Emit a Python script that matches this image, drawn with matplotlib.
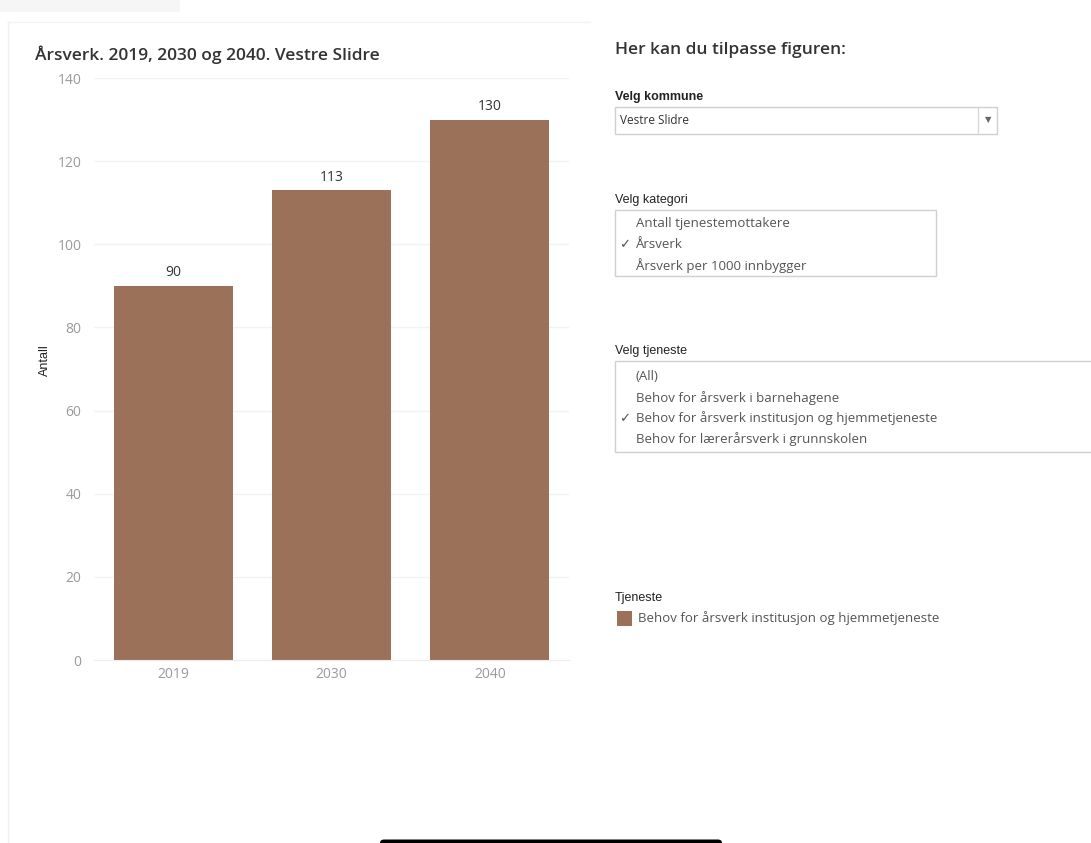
import matplotlib
matplotlib.use("Agg")
import matplotlib.pyplot as plt
from matplotlib.patches import Rectangle, FancyBboxPatch

# ---- data ----
years = ["2019", "2030", "2040"]
values = [90, 113, 130]
yticks = [0, 20, 40, 60, 80, 100, 120, 140]
title = "Årsverk. 2019, 2030 og 2040. Vestre Slidre"
ylabel = "Antall"
kategori_items = ["Antall tjenestemottakere", "Årsverk", "Årsverk per 1000 innbygger"]
kategori_selected = "Årsverk"
tjeneste_items = ["(All)", "Behov for årsverk i barnehagene",
                  "Behov for årsverk institusjon og hjemmetjeneste",
                  "Behov for lærerårsverk i grunnskolen"]
tjeneste_selected = "Behov for årsverk institusjon og hjemmetjeneste"
legend_label = "Behov for årsverk institusjon og hjemmetjeneste"

BAR = "#9B7159"
FONT = ["Open Sans", "DejaVu Sans"]
W, H = 1091, 843

fig = plt.figure(figsize=(W / 100, H / 100), dpi=100)
fig.patch.set_facecolor("white")

def P(x, y):
    return x / W, 1 - y / H

def ftext(x, y, s, **kw):
    kw.setdefault("family", FONT)
    kw.setdefault("va", "center")
    fig.text(*P(x, y), s, **kw)

def frect(x0, y0, x1, y1, ec="#d0d0d0", fc="none", lw=1.0, z=1):
    fig.add_artist(Rectangle(P(x0, y1), (x1 - x0) / W, (y1 - y0) / H,
                             transform=fig.transFigure, ec=ec, fc=fc, lw=lw, zorder=z))

# faint panel borders
fig.add_artist(plt.Line2D([8 / W, 8 / W], [1 - 22 / H, 0], transform=fig.transFigure,
                          color="#efefef", lw=1))
fig.add_artist(plt.Line2D([8 / W, 590 / W], [1 - 22 / H, 1 - 22 / H], transform=fig.transFigure,
                          color="#f3f3f3", lw=1))
frect(0, 0, 180, 12, ec="none", fc="#f6f6f6")

# ---- main axes ----
ax = fig.add_axes([94 / W, 1 - 660 / H, (569 - 94) / W, (660 - 78) / H])
x = range(len(years))
bars = ax.bar(x, values, width=0.75, color=BAR, zorder=2)
ax.set_xlim(-0.5, 2.5)
ax.set_ylim(0, 140)
ax.set_yticks(yticks)
ax.set_xticks(list(x))
ax.set_xticklabels(years)
for s in ["top", "right", "left"]:
    ax.spines[s].set_visible(False)
ax.spines["bottom"].set_color("#ececec")
ax.grid(axis="y", color="#f2f2f2", lw=1, zorder=0)
ax.tick_params(axis="x", length=0, colors="#9a9a9a", labelsize=10, pad=5)
ax.tick_params(axis="y", length=0, colors="#9a9a9a", labelsize=10, pad=9)
for lab in ax.get_xticklabels() + ax.get_yticklabels():
    lab.set_family(FONT)
for b, v in zip(bars, values):
    ax.annotate(str(v), (b.get_x() + b.get_width() / 2, v), xytext=(0, 4),
                textcoords="offset points", ha="center", va="bottom",
                fontsize=10, color="#333333", family=FONT)

ftext(45, 360, ylabel, rotation=90, fontsize=9, color="#222222", ha="center", family="Liberation Sans")
ftext(35, 55, title, fontsize=12.5, color="#333333", fontweight="semibold")

# ---- right panel ----
ftext(615, 50, "Her kan du tilpasse figuren:", fontsize=12.5, color="#333333", fontweight="semibold")

ftext(615, 97, "Velg kommune", fontsize=9, fontweight="bold", color="#222222", family="Liberation Sans")
frect(615, 107, 997, 134)
fig.add_artist(plt.Line2D([978 / W, 978 / W], [1 - 108 / H, 1 - 133 / H],
                          transform=fig.transFigure, color="#d8d8d8", lw=1))
ftext(620, 121, "Vestre Slidre", fontsize=8.5, color="#333333")
ftext(988, 120, "▼", fontsize=6, color="#666666", ha="center", family="DejaVu Sans")

ftext(615, 200, "Velg kategori", fontsize=9, color="#222222", family="Liberation Sans")
frect(615, 210, 936, 276)
for i, item in enumerate(kategori_items):
    yy = 224 + i * 21
    ftext(636, yy, item, fontsize=9.5, color="#555555")
    if item == kategori_selected:
        ftext(619, yy, "✓", fontsize=9.5, color="#555555", family="DejaVu Sans")

ftext(615, 351, "Velg tjeneste", fontsize=9, color="#222222", family="Liberation Sans")
frect(615, 361, 1100, 452)
for i, item in enumerate(tjeneste_items):
    yy = 377 + i * 20.7
    ftext(636, yy, item, fontsize=9.5, color="#555555")
    if item == tjeneste_selected:
        ftext(619, yy, "✓", fontsize=9.5, color="#555555", family="DejaVu Sans")

ftext(615, 598, "Tjeneste", fontsize=9, color="#222222", family="Liberation Sans")
frect(617, 611, 632, 626, ec="none", fc=BAR)
ftext(638, 618, legend_label, fontsize=9.5, color="#555555")

# bottom black bar
fig.add_artist(FancyBboxPatch((380 / W, -0.01), (722 - 380) / W, 0.01 + 3.5 / H,
                              boxstyle="round,pad=0,rounding_size=0.004",
                              transform=fig.transFigure, fc="black", ec="none"))

fig.savefig("out.png", dpi=100, facecolor="white")
